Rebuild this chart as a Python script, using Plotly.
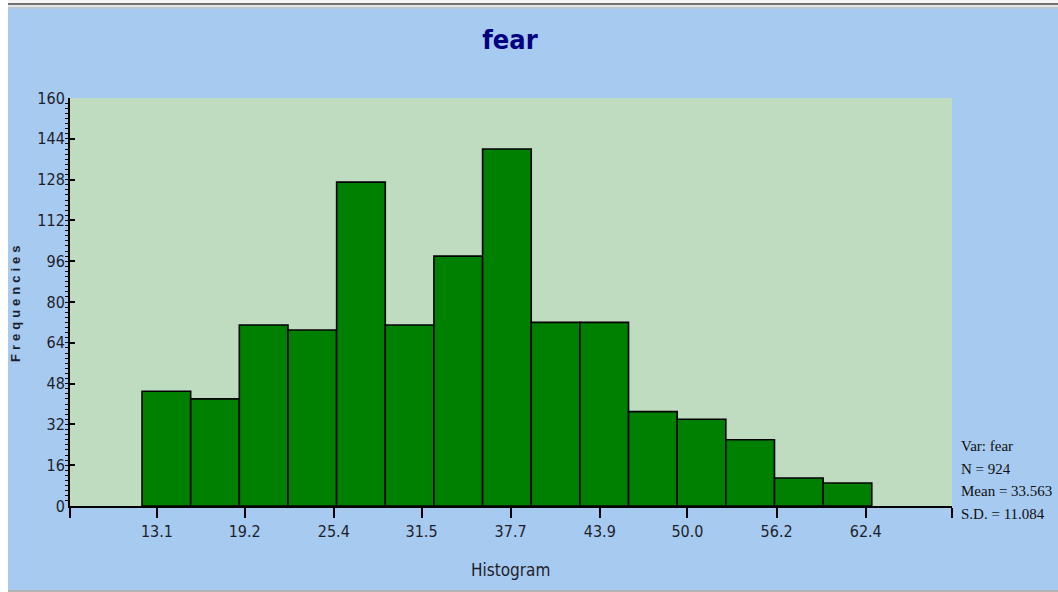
import plotly.graph_objects as go

# ---- data ----
variable = "fear"
bin_start = 12.06
bin_width = 3.384
counts = [45, 42, 71, 69, 127, 71, 98, 140, 72, 72, 37, 34, 26, 11, 9]
x_tick_labels = ["13.1", "19.2", "25.4", "31.5", "37.7", "43.9", "50.0", "56.2", "62.4"]
x_range = [7.05, 68.4]
y_max = 160
y_step = 16
n_obs = 924
mean_val = 33.563
sd_val = 11.084

centers = [bin_start + bin_width * (i + 0.5) for i in range(len(counts))]

BG = "#A7CAF0"
PLOT_BG = "#C0DCC0"
NARROW = "Liberation Sans Narrow, Arial Narrow, DejaVu Sans Condensed, sans-serif"
TXT = "#1e1e2a"

fig = go.Figure()
fig.add_trace(go.Bar(
    x=centers, y=counts, width=bin_width,
    marker=dict(color="#008000", line=dict(color="black", width=1.6)),
    hoverinfo="x+y",
))

tickvals = [x_range[0]] + [float(t) for t in x_tick_labels] + [x_range[1]]
ticktext = [""] + x_tick_labels + [""]

fig.update_layout(
    width=1058, height=592,
    paper_bgcolor=BG, plot_bgcolor=PLOT_BG,
    margin=dict(l=70, r=106, t=98, b=86, pad=0),
    showlegend=False,
    title=dict(text=variable, x=510 / 1058, xanchor="center", y=1 - 40 / 592, yanchor="middle",
               font=dict(family=NARROW, size=27, color="#000080", weight="bold")),
    xaxis=dict(range=x_range, tickvals=tickvals, ticktext=ticktext, ticks="outside", ticklen=10,
               tickwidth=1.5, tickcolor="black", showline=True, linecolor="black", linewidth=2,
               showgrid=False, zeroline=False, tickfont=dict(family=NARROW, size=16, color=TXT)),
    yaxis=dict(range=[0, y_max], tick0=0, dtick=y_step, ticks="inside", ticklen=5, tickwidth=1.5,
               tickcolor="black", showline=True, linecolor="black", linewidth=2, showgrid=False,
               zeroline=False, tickfont=dict(family=NARROW, size=16, color=TXT),
               minor=dict(dtick=2, ticks="outside", ticklen=3, tickwidth=1, tickcolor="black", showgrid=False)),
)

# axis titles
fig.add_annotation(text="Histogram", xref="paper", yref="paper", x=(510 - 70) / 882, y=(506 - 570) / 408,
                   showarrow=False, xanchor="center", yanchor="middle",
                   font=dict(family=NARROW, size=17, color=TXT))
fig.add_annotation(text="Frequencies", xref="paper", yref="paper", x=(15 - 70) / 882, y=(506 - 302) / 408,
                   showarrow=False, textangle=-90, xanchor="center", yanchor="middle",
                   font=dict(family="Liberation Sans, Arial, sans-serif", size=13, color=TXT, weight="bold"))

# statistics box
stat_lines = [f"Var: {variable}", f"N = {n_obs}", f"Mean = {mean_val:.3f}", f"S.D. = {sd_val:.3f}"]
stat_y = [446, 468.5, 491, 514]
for line, ypx in zip(stat_lines, stat_y):
    fig.add_annotation(text=line, xref="paper", yref="paper", x=(959 - 70) / 882, y=(506 - ypx) / 408,
                       showarrow=False, xanchor="left", yanchor="middle",
                       font=dict(family="Liberation Serif, Times New Roman, serif", size=15, color="#101010"))

# window chrome: white strip at left, grey rules at top and bottom
def px_x(p):
    return (p - 70) / 882

def px_y(p):
    return (506 - p) / 408

fig.add_shape(type="rect", xref="paper", yref="paper", x0=px_x(-2), x1=px_x(8), y0=px_y(594), y1=px_y(-2),
              fillcolor="white", line=dict(width=0))
fig.add_shape(type="rect", xref="paper", yref="paper", x0=px_x(8), x1=px_x(1060), y0=px_y(3), y1=px_y(-2),
              fillcolor="#f4f4f4", line=dict(width=0))
fig.add_shape(type="rect", xref="paper", yref="paper", x0=px_x(8), x1=px_x(1060), y0=px_y(5), y1=px_y(3),
              fillcolor="#707070", line=dict(width=0))
fig.add_shape(type="rect", xref="paper", yref="paper", x0=px_x(8), x1=px_x(1060), y0=px_y(7), y1=px_y(5),
              fillcolor="#e2e2e2", line=dict(width=0))
fig.add_shape(type="rect", xref="paper", yref="paper", x0=px_x(8), x1=px_x(1060), y0=px_y(9), y1=px_y(7),
              fillcolor="#b9c6d4", line=dict(width=0))
fig.add_shape(type="rect", xref="paper", yref="paper", x0=px_x(8), x1=px_x(1060), y0=px_y(594), y1=px_y(590),
              fillcolor="#b4b4b4", line=dict(width=0))

post = """
document.body.style.margin = '0';
document.body.style.overflow = 'hidden';
function _ls(){
  document.querySelectorAll('.annotation-text').forEach(function(t){
    if (t.textContent === 'Frequencies') { t.style.letterSpacing = '4px'; }
  });
}
_ls(); setTimeout(_ls, 50); setTimeout(_ls, 300);
"""
fig.write_html("out.html", post_script=post, config={"displayModeBar": False})
